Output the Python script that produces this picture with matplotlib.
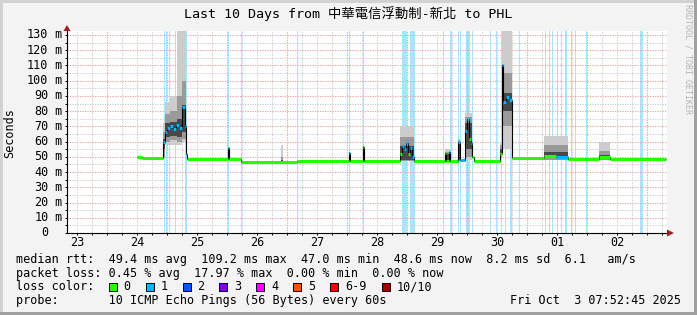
import numpy as np
import matplotlib
matplotlib.use('Agg')
import matplotlib.pyplot as plt
from matplotlib.patches import Rectangle, Polygon

# time is in hours since the start of the graph (Sep 23 07:52:45)
day_labels = ['23', '24', '25', '26', '27', '28', '29', '30', '01', '02']
first_midnight = 16.12

# median rtt, one step per entry: start hour, value (ms), lost pings
med_t = [28.0, 30.0, 38.4, 39.2, 40.0, 41.2, 42.4, 43.6, 44.8, 46.0, 47.0, 47.4, 47.8,
         64.4, 64.8, 69.6, 92.0, 112.6, 113.0, 118.2, 118.6,
         133.2, 134.0, 134.8, 135.6, 136.4, 137.2, 138.0, 138.8,
         151.2, 151.6, 152.8, 153.2, 156.4, 157.2, 159.2, 160.0, 160.8, 161.6, 162.0, 162.8,
         173.2, 173.8, 174.4, 175.6, 176.8, 178.0, 190.8, 195.6, 200.4, 212.8, 217.2]
med_end = 239.6
med_v = [50.2, 49.2, 60.0, 66.0, 69.0, 70.5, 68.5, 71.0, 69.0, 82.7, 70.0, 52.0, 48.4,
         56.0, 48.4, 46.8, 47.3, 52.7, 47.3, 56.7, 47.3,
         52.0, 57.0, 55.0, 58.9, 52.0, 56.0, 50.0, 47.3,
         52.7, 47.3, 53.4, 47.3, 60.0, 48.0, 67.0, 74.6, 62.0, 58.9, 50.0, 47.3,
         52.0, 110.3, 86.0, 89.0, 87.5, 49.0, 50.8, 50.2, 48.4, 50.0, 48.3]
med_loss = [0, 0, 1, 1, 1, 1, 1, 1, 1, 1, 1, 1, 0,
            1, 0, 0, 0, 1, 0, 0, 0,
            0, 1, 1, 1, 0, 1, 1, 0,
            0, 0, 1, 0, 1, 1, 1, 1, 0, 1, 0, 0,
            0, 1, 1, 1, 1, 0, 0, 1, 0, 0, 0]

# smoke bands (ms): light lo..hi, mid mid_lo..mid_hi, dark core_lo..core_hi
smoke_t0 = [38.4, 39.2, 41.2, 44.0, 46.0, 64.4, 85.6, 112.6, 118.2, 133.2, 151.2, 156.4, 159.2, 173.2, 173.8, 190.8, 212.8]
smoke_t1 = [39.2, 41.2, 44.0, 46.0, 47.4, 64.8, 86.4, 113.0, 118.6, 138.8, 153.2, 157.2, 162.0, 173.8, 178.0, 200.4, 217.2]
smoke_lo = [49, 58, 58, 58, 60, 48, 47, 47, 47, 47, 47, 47, 48, 49, 55, 48, 48]
smoke_mid_lo = [50, 60, 61, 60, 62, 48, 47, 47, 47, 47, 47, 47, 50, 50, 70, 48, 48]
smoke_core_lo = [55, 63, 64, 63, 66, 49, 47, 48, 48, 48, 48, 48, 55, 51, 80, 49, 49]
smoke_core_hi = [62, 72, 73, 75, 84, 56, 48, 53, 57, 57, 52, 60, 72, 55, 92, 53, 51]
smoke_mid_hi = [66, 78, 80, 90, 100, 56, 50, 53, 57, 63, 53, 61, 76, 58, 105, 58, 54]
smoke_hi = [72, 86, 90, 140, 140, 57, 58, 54, 57, 70, 55, 62, 79, 60, 140, 64, 60]

# loss background bars: start hour, width hours
loss_t = [38.7, 39.6, 40.8, 43.3, 47.3, 64.5, 69.6, 92.1, 112.8, 118.4, 134.0, 137.2,
          150.5, 153.2, 156.4, 157.3, 159.6, 162.1, 169.3, 171.7, 173.6, 175.0, 177.0,
          180.7, 191.2, 192.8, 194.1, 195.9, 197.5, 199.1, 201.6, 203.3, 207.6, 229.3]
loss_w = [0.4, 0.4, 0.4, 0.4, 0.6, 0.4, 0.4, 0.4, 0.4, 0.4, 1.9, 1.9,
          0.4, 0.8, 0.4, 0.4, 1.6, 0.4, 0.4, 0.4, 0.4, 0.4, 1.0,
          0.4, 0.4, 0.4, 0.4, 0.4, 0.4, 0.8, 0.4, 0.4, 0.4, 1.0]

loss_labels = ['0', '1', '2', '3', '4', '5', '6-9', '10/10']
loss_colors = ['#26ff00', '#00b8ff', '#0059ff', '#7e00ff', '#ff00ff', '#ff5500', '#ff0000', '#a00000']

W, H = 697, 315
MONO = 'DejaVu Sans Mono'
FS = 8.5


def fx(x):
    return x / W


def fy(y):
    return 1 - y / H


fig = plt.figure(figsize=(W / 100, H / 100), dpi=100, facecolor='#f3f3f3')
ax = fig.add_axes([fx(67), fy(233), 600 / W, (233 - 31) / H])
ax.set_facecolor('white')
ax.set_xlim(0, 240)
ax.set_ylim(0, 132.6)

# loss background
for t0, w in zip(loss_t, loss_w):
    ax.axvspan(t0, t0 + w, color='#aae5ff', lw=0, zorder=0.8)

# smoke
for i in range(len(smoke_t0)):
    xs = [smoke_t0[i], smoke_t1[i]]
    ax.fill_between(xs, smoke_lo[i], smoke_hi[i], color='#cccccc', lw=0, zorder=1.8)
    ax.fill_between(xs, smoke_mid_lo[i], smoke_mid_hi[i], color='#9a9a9a', lw=0, zorder=1.9)
    ax.fill_between(xs, smoke_core_lo[i], smoke_core_hi[i], color='#474747', lw=0, zorder=1.95)

# median
edges = med_t + [med_end]
ax.stairs(med_v, edges, baseline=None, color='black', lw=0.8, zorder=2.2)
ax.hlines(med_v, edges[:-1], edges[1:], colors=[loss_colors[l] for l in med_loss],
          lw=2.2, zorder=2.3)

# grid
ax.set_xticks(np.arange(first_midnight, 240, 24))
ax.set_xticks(np.arange(first_midnight - 12, 240, 6), minor=True)
ax.set_yticks(np.arange(0, 131, 10))
ax.set_yticks(np.arange(5, 131, 10), minor=True)
ax.set_axisbelow('line')
ax.grid(which='major', color='#e9a3a3', lw=0.75, linestyle=(0, (1.2, 1.2)))
ax.grid(which='minor', color='#cfcfcf', lw=0.75, linestyle=(0, (1.2, 1.2)))
ax.tick_params(which='both', length=1.5, width=0.7, labelbottom=False, labelleft=False)

for s in ['top', 'right']:
    ax.spines[s].set_visible(False)
for s in ['left', 'bottom']:
    ax.spines[s].set_color('black')
    ax.spines[s].set_linewidth(0.8)

# day labels centred on noon
for i, lab in enumerate(day_labels):
    ax.text(first_midnight - 12 + 24 * i, (233 - 242.5) / 202, lab,
            transform=ax.get_xaxis_transform(), ha='center', va='center',
            family=MONO, fontsize=FS)

# y labels: number then " m"
ylab_x = (48.5 - 67) / 600
for v in range(0, 131, 10):
    ax.text(ylab_x, v, str(v), transform=ax.get_yaxis_transform(), ha='right',
            va='center', family=MONO, fontsize=FS)
    if v > 0:
        ax.text(ylab_x, v, ' m', transform=ax.get_yaxis_transform(), ha='left',
                va='center', family=MONO, fontsize=FS)

# axis arrows
arrow_c = '#a01e1e'
fig.patches.append(Polygon([(fx(63.5), fy(31)), (fx(70.5), fy(31)), (fx(67), fy(25))],
                           closed=True, transform=fig.transFigure, fc=arrow_c, ec='none'))
fig.patches.append(Polygon([(fx(667), fy(229.5)), (fx(667), fy(236.5)), (fx(674), fy(233))],
                           closed=True, transform=fig.transFigure, fc=arrow_c, ec='none'))

# titles
fig.text(fx(348), fy(14), 'Last 10 Days from 中華電信浮動制-新北 to PHL', ha='center', va='center',
         family=[MONO, 'Noto Sans CJK TC'], fontsize=9.6)
fig.text(fx(10), fy(133), 'Seconds', rotation=90, ha='center', va='center', family=MONO, fontsize=FS)
fig.text(fx(688), fy(4), 'RRDTOOL / TOBI OETIKER', rotation=270, ha='center', va='top',
         family=MONO, fontsize=6, color='#b4b4b4')

# legend
rows = ['median rtt:  49.4 ms avg  109.2 ms max  47.0 ms min  48.6 ms now  8.2 ms sd  6.1   am/s',
        'packet loss: 0.45 % avg  17.97 % max  0.00 % min  0.00 % now',
        'loss color:',
        'probe:       10 ICMP Echo Pings (56 Bytes) every 60s']
for r, y in zip(rows, [259, 273, 287, 300.5]):
    fig.text(fx(16), fy(y), r, ha='left', va='center', family=MONO, fontsize=FS)
fig.text(fx(681), fy(300.5), 'Fri Oct  3 07:52:45 2025', ha='right', va='center',
         family=MONO, fontsize=FS)

box_x = [108.5, 145.5, 182.5, 219, 256, 293, 330, 381.5]
for bx, lab, c in zip(box_x, loss_labels, loss_colors):
    fig.patches.append(Rectangle((fx(bx), fy(290.5)), 8 / W, 8 / H, transform=fig.transFigure,
                                 fc=c, ec='black', lw=0.7))
    fig.text(fx(bx + 15), fy(287), lab, ha='left', va='center', family=MONO, fontsize=FS)

# frame
fig.patches.append(Rectangle((0, fy(3)), 1, 3 / H, transform=fig.transFigure, fc='#d2d2d2', ec='none'))
fig.patches.append(Rectangle((0, 0), 3 / W, 1, transform=fig.transFigure, fc='#d2d2d2', ec='none'))
fig.patches.append(Rectangle((fx(694), 0), 3 / W, 1, transform=fig.transFigure, fc='#a0a0a0', ec='none'))
fig.patches.append(Rectangle((0, 0), 1, 3 / H, transform=fig.transFigure, fc='#a0a0a0', ec='none'))

fig.savefig('out.png', dpi=100, facecolor=fig.get_facecolor())
